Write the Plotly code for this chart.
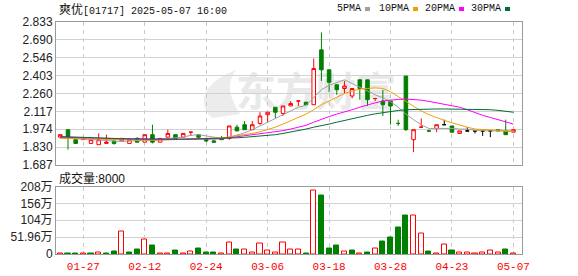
import plotly.graph_objects as go

# ---------------- data ----------------
title_name = "爽优"
title_rest = "[01717] 2025-05-07 16:00"

idx = list(range(60))
tick_idx = [3, 11, 19, 27, 35, 43, 51, 59]
tick_dates = ["01-27", "02-12", "02-24", "03-06", "03-18", "03-28", "04-23", "05-07"]

open_ = [1.91, 1.97, 1.89, 1.89, 1.86, 1.85, 1.86, 1.88, 1.88, 1.86,
         1.90, 1.87, 1.93, 1.87, 1.91, 1.93, 1.91, 1.95, 1.93, 1.89,
         1.88, 1.90, 1.90, 1.99, 2.01, 1.97, 2.02, 2.09, 2.15, 2.10,
         2.16, 2.20, 2.19, 2.17, 2.61, 2.45, 2.33, 2.30, 2.24, 2.37,
         2.37, 2.22, 2.20, 2.20, 2.02, 2.40, 1.89, 1.99, 1.96, 1.98,
         2.01, 2.00, 1.94, 1.96, 1.96, 1.96, 1.96, 1.97, 1.96, 1.95]
high = [1.93, 1.97, 1.89, 1.90, 1.90, 1.94, 1.93, 1.88, 1.90, 1.89,
        1.91, 1.93, 2.01, 1.90, 1.97, 1.93, 1.94, 1.95, 1.93, 1.90,
        1.89, 1.92, 2.00, 2.01, 2.04, 2.04, 2.11, 2.11, 2.15, 2.16,
        2.20, 2.20, 2.19, 2.54, 2.75, 2.45, 2.33, 2.36, 2.30, 2.37,
        2.37, 2.22, 2.29, 2.20, 2.05, 2.40, 1.97, 2.06, 1.97, 2.01,
        2.05, 2.00, 1.96, 1.99, 1.96, 1.96, 1.96, 1.97, 2.05, 1.97]
low = [1.90, 1.81, 1.86, 1.89, 1.86, 1.85, 1.86, 1.85, 1.88, 1.86,
       1.87, 1.87, 1.86, 1.87, 1.91, 1.90, 1.91, 1.92, 1.90, 1.87,
       1.87, 1.89, 1.89, 1.96, 1.97, 1.97, 2.01, 2.03, 2.06, 2.08,
       2.16, 2.16, 2.17, 2.17, 2.36, 2.27, 2.25, 2.26, 2.22, 2.21,
       2.16, 2.20, 2.08, 2.01, 2.00, 1.96, 1.79, 1.99, 1.95, 1.95,
       2.01, 1.95, 1.94, 1.96, 1.94, 1.92, 1.91, 1.96, 1.93, 1.95]
close = [1.93, 1.91, 1.86, 1.90, 1.89, 1.89, 1.87, 1.86, 1.90, 1.89,
         1.87, 1.93, 1.87, 1.90, 1.94, 1.90, 1.94, 1.95, 1.91, 1.88,
         1.87, 1.89, 2.00, 1.96, 1.97, 2.01, 2.08, 2.11, 2.11, 2.16,
         2.18, 2.20, 2.17, 2.46, 2.45, 2.35, 2.29, 2.32, 2.30, 2.30,
         2.21, 2.22, 2.17, 2.16, 2.02, 1.97, 1.97, 1.99, 1.96, 2.01,
         2.01, 1.95, 1.96, 1.96, 1.96, 1.96, 1.96, 1.96, 1.93, 1.97]

# volume in 万 shares
volume = [2, 2, 2, 2, 2, 5, 2, 8, 68, 5,
          13, 46, 26, 2, 2, 10, 2, 7, 16, 5,
          5, 2, 34, 13, 15, 6, 32, 12, 5, 34,
          15, 15, 1, 195, 180, 16, 26, 9, 10, 1,
          4, 18, 38, 50, 81, 119, 118, 63, 7, 2,
          29, 10, 4, 4, 1.5, 6, 12, 4, 13, 0.8]

ma5 = [1.905, 1.905, 1.900, 1.895, 1.890, 1.885, 1.880, 1.875, 1.875, 1.880,
       1.880, 1.885, 1.890, 1.890, 1.900, 1.905, 1.910, 1.925, 1.930, 1.920,
       1.910, 1.900, 1.910, 1.925, 1.945, 1.970, 2.000, 2.030, 2.060, 2.090,
       2.125, 2.150, 2.165, 2.225, 2.290, 2.325, 2.345, 2.370, 2.340, 2.310,
       2.275, 2.250, 2.225, 2.195, 2.150, 2.095, 2.050, 2.010, 1.980, 1.980,
       1.985, 1.980, 1.975, 1.975, 1.965, 1.960, 1.960, 1.960, 1.955, 1.955]
ma10 = [1.900, 1.900, 1.900, 1.898, 1.896, 1.894, 1.892, 1.890, 1.888, 1.886,
        1.885, 1.885, 1.885, 1.886, 1.888, 1.890, 1.893, 1.897, 1.900, 1.903,
        1.905, 1.905, 1.912, 1.920, 1.930, 1.940, 1.953, 1.970, 1.990, 2.015,
        2.040, 2.065, 2.095, 2.130, 2.170, 2.200, 2.230, 2.260, 2.280, 2.295,
        2.300, 2.305, 2.300, 2.275, 2.235, 2.195, 2.160, 2.120, 2.090, 2.065,
        2.045, 2.025, 2.005, 1.990, 1.975, 1.970, 1.968, 1.966, 1.963, 1.960]
ma20 = [1.910, 1.908, 1.905, 1.902, 1.900, 1.898, 1.896, 1.894, 1.893, 1.892,
        1.891, 1.890, 1.890, 1.890, 1.890, 1.890, 1.892, 1.894, 1.895, 1.895,
        1.895, 1.897, 1.905, 1.912, 1.920, 1.928, 1.935, 1.942, 1.950, 1.962,
        1.975, 1.990, 2.005, 2.030, 2.055, 2.075, 2.095, 2.110, 2.130, 2.150,
        2.170, 2.185, 2.200, 2.208, 2.213, 2.215, 2.213, 2.207, 2.197, 2.185,
        2.175, 2.163, 2.150, 2.130, 2.105, 2.085, 2.068, 2.050, 2.032, 2.015]
ma30 = [1.915, 1.912, 1.910, 1.908, 1.906, 1.904, 1.902, 1.900, 1.898, 1.897,
        1.896, 1.895, 1.895, 1.895, 1.895, 1.895, 1.895, 1.896, 1.897, 1.897,
        1.897, 1.898, 1.902, 1.905, 1.909, 1.913, 1.918, 1.923, 1.930, 1.940,
        1.950, 1.960, 1.975, 1.990, 2.000, 2.015, 2.030, 2.045, 2.058, 2.072,
        2.085, 2.097, 2.107, 2.117, 2.124, 2.130, 2.133, 2.135, 2.136, 2.136,
        2.136, 2.136, 2.136, 2.135, 2.134, 2.133, 2.130, 2.125, 2.118, 2.110]

ma_names = ["5PMA", "10PMA", "20PMA", "30PMA"]
ma_series = [ma5, ma10, ma20, ma30]

price_ticks = [1.687, 1.830, 1.974, 2.117, 2.260, 2.403, 2.546, 2.690, 2.833]
price_ticktext = ["1.687", "1.830", "1.974", "2.117", "2.260", "2.403", "2.546", "2.690", "2.833"]
vol_ticks = [0, 51.96, 103.92, 155.88, 207.84]
vol_ticktext = ["0", "51.96万", "104万", "156万", "208万"]

# ---------------- styles / layout geometry ----------------
W, H = 578, 276
ML, MR, MT, MB = 56, 56, 22, 22
PW, PH = W - ML - MR, H - MT - MB

def fx(px):
    return (px - ML) / PW

def fy(py):
    return (H - MB - py) / PH

RED, GREEN, BLACK = "#ff0000", "#008000", "#000000"
ma_colors = ["#a0a0a0", "#f0a000", "#ff00ff", "#007030"]
GRID, FRAME = "#d2d2d2", "#9a9a9a"
XRANGE = [-0.56, 60.12]

fig = go.Figure()

# candle classes
up_i, dn_i, flat_i = [], [], []
for i in idx:
    o, c = open_[i], close[i]
    if c > o:
        up_i.append(i)
    elif c < o:
        dn_i.append(i)
    else:
        pc = close[i - 1] if i > 0 else o
        if c > pc:
            up_i.append(i)
        elif c < pc:
            dn_i.append(i)
        else:
            flat_i.append(i)

for sel, col, fill in [(up_i, RED, "#ffffff"), (dn_i, GREEN, GREEN), (flat_i, BLACK, BLACK)]:
    if not sel:
        continue
    sty = dict(line=dict(color=col, width=1), fillcolor=fill)
    fig.add_trace(go.Candlestick(
        x=[idx[i] for i in sel],
        open=[open_[i] for i in sel], high=[high[i] for i in sel],
        low=[low[i] for i in sel], close=[close[i] for i in sel],
        increasing=sty, decreasing=sty, whiskerwidth=0,
        xaxis="x", yaxis="y", showlegend=False, hoverinfo="skip"))

for name, ser, col in zip(ma_names, ma_series, ma_colors):
    fig.add_trace(go.Scatter(x=idx, y=ser, mode="lines", name=name,
                             line=dict(color=col, width=1),
                             xaxis="x", yaxis="y", showlegend=False, hoverinfo="skip"))

# volume colours: by close vs previous close
vol_fill, vol_line = [], []
for i in idx:
    upv = i == 0 or close[i] >= close[i - 1]
    vol_fill.append("#ffffff" if upv else GREEN)
    vol_line.append(RED if upv else GREEN)

fig.add_trace(go.Bar(x=idx, y=volume, width=0.66,
                     marker=dict(color=vol_fill, line=dict(color=vol_line, width=1)),
                     xaxis="x2", yaxis="y2", showlegend=False, hoverinfo="skip"))

main_dom = [fy(165), 1.0]
vol_dom = [0.0, fy(186.5)]

axis_common = dict(showline=True, mirror=True, linecolor=FRAME, linewidth=1,
                   zeroline=False, ticks="", fixedrange=True, automargin=False)

fig.update_layout(
    width=W, height=H,
    margin=dict(l=ML, r=MR, t=MT, b=MB, pad=0, autoexpand=False),
    paper_bgcolor="white", plot_bgcolor="white",
    boxgap=0.34, bargap=0,
    showlegend=False,
    xaxis=dict(domain=[0, 1], range=XRANGE, anchor="y",
               tickvals=tick_idx, ticktext=tick_dates, showticklabels=False,
               showgrid=True, gridcolor="#c8c8c8", griddash="4px,4px", gridwidth=1,
               rangeslider=dict(visible=False), **axis_common),
    xaxis2=dict(domain=[0, 1], range=XRANGE, anchor="y2",
                tickvals=tick_idx, ticktext=tick_dates, showticklabels=True,
                ticklabelstandoff=2,
                tickfont=dict(family="Liberation Mono", size=11, color=RED),
                showgrid=True, gridcolor="#c8c8c8", griddash="4px,4px", gridwidth=1,
                **axis_common),
    yaxis=dict(domain=main_dom, range=[price_ticks[0], price_ticks[-1]], anchor="x",
               tickvals=price_ticks, ticktext=price_ticktext,
               tickfont=dict(family="Liberation Sans", size=12, color="#222222"),
               showgrid=True, gridcolor=GRID, gridwidth=1, **axis_common),
    yaxis2=dict(domain=vol_dom, range=[vol_ticks[0], vol_ticks[-1]], anchor="x2",
                tickvals=vol_ticks, ticktext=vol_ticktext,
                tickfont=dict(family="Liberation Sans, Noto Sans CJK SC", size=12, color="#222222"),
                showgrid=True, gridcolor=GRID, gridwidth=1, **axis_common),
)

annotations = []
shapes = []

# title
annotations.append(dict(
    xref="paper", yref="paper", x=fx(57), y=fy(9), xanchor="left", yanchor="middle",
    text="<span style='font-family:Noto Sans CJK SC;font-size:12px'>%s</span>%s" % (title_name, title_rest),
    showarrow=False, font=dict(family="Liberation Mono, Noto Sans CJK SC", size=10, color="#111111")))

# volume caption
vol_last = int(round(volume[-1] * 10000))
annotations.append(dict(
    xref="paper", yref="paper", x=fx(57), y=fy(177), xanchor="left", yanchor="middle",
    text="<span style='font-family:Noto Sans CJK SC;font-size:12px'>成交量</span>:%d" % vol_last,
    showarrow=False, font=dict(family="Liberation Sans, Noto Sans CJK SC", size=12, color="#111111")))

# legend
leg_text_x = [336, 378, 424, 470]
leg_sq_x = [365, 413, 459, 505]
for name, col, tx, sx in zip(ma_names, ma_colors, leg_text_x, leg_sq_x):
    annotations.append(dict(
        xref="paper", yref="paper", x=fx(tx), y=fy(9), xanchor="left", yanchor="middle",
        text=name, showarrow=False, borderpad=0,
        font=dict(family="Liberation Mono", size=10, color="#111111")))
    shapes.append(dict(type="rect", xref="paper", yref="paper",
                       x0=fx(sx), x1=fx(sx + 5), y0=fy(11), y1=fy(7),
                       fillcolor=col, line=dict(width=0)))

# watermark (below traces)
def ppath(pts):
    s = "M %.4f,%.4f" % (fx(pts[0][0]), fy(pts[0][1]))
    k = 1
    while k + 2 <= len(pts) - 1:
        (a, b), (c, d), (e, f) = pts[k], pts[k + 1], pts[k + 2]
        s += " C %.4f,%.4f %.4f,%.4f %.4f,%.4f" % (fx(a), fy(b), fx(c), fy(d), fx(e), fy(f))
        k += 3
    return s + " Z"

shapes.append(dict(type="path", xref="paper", yref="paper", layer="below",
                   path=ppath([(212, 118), (196, 102), (204, 82), (236, 70),
                               (224, 86), (232, 100), (240, 114)]),
                   fillcolor="#ececec", line=dict(width=0)))
shapes.append(dict(type="rect", xref="paper", yref="paper", layer="below",
                   x0=fx(240), x1=fx(392), y0=fy(118), y1=fy(72),
                   fillcolor="rgba(0,0,0,0)", line=dict(width=0),
                   label=dict(text="东方财富", textposition="middle center",
                              font=dict(family="Noto Sans CJK SC", size=40,
                                        color="#e9e9e9", weight="bold"))))

fig.update_layout(annotations=annotations, shapes=shapes)

fig.write_html("out.html")
